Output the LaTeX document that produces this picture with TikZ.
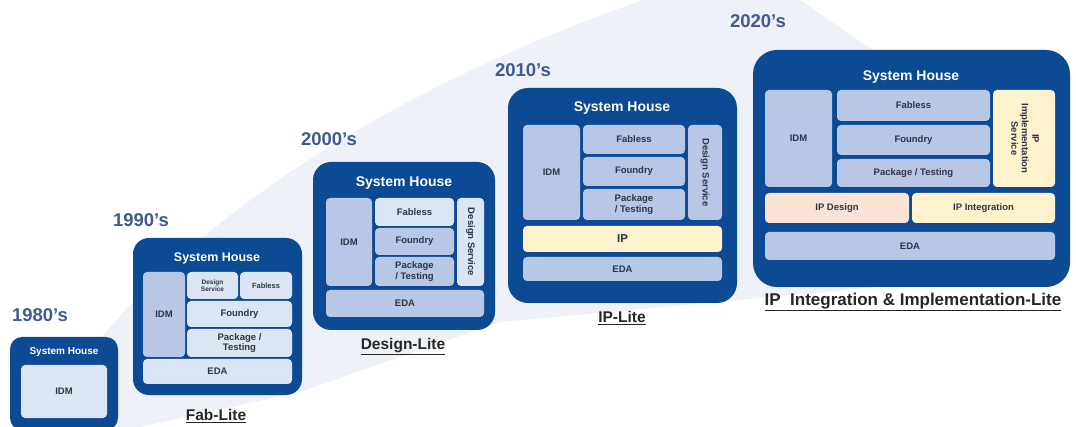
\documentclass[tikz,border=0pt]{standalone}
\usepackage{fontspec}
\setmainfont{Liberation Sans}
\definecolor{housenavy}{HTML}{0C4A93}
\definecolor{cellmid}{HTML}{B7C7E5}
\definecolor{celllight}{HTML}{DCE5F3}
\definecolor{cellyellow}{HTML}{FFF2CC}
\definecolor{cellpeach}{HTML}{FBE4D6}
\definecolor{celltext}{HTML}{2E3546}
\definecolor{eranavy}{HTML}{3E5C90}
\definecolor{bandgray}{HTML}{EEF1F7}
% one box from its corners: name, x1, y1, x2, y2, options, text
\newcommand{\blockcell}[7]{%
  \node[cellbox,#6,minimum width={(#4-#2)*1pt},minimum height={(#5-#3)*1pt}]
    (#1) at ({(#2+#4)/2},{(#3+#5)/2}) {#7};}
\begin{document}
\begin{tikzpicture}[x=1pt,y=-1pt,
    cellbox/.style={rounded corners=4pt,inner sep=0pt,align=center,text=celltext,
      font=\bfseries\fontsize{9.5}{10.5}\selectfont},
    housebox/.style={fill=housenavy,rounded corners=#1},
    housetitle/.style={text=white,font=\bfseries\fontsize{#1}{#1}\selectfont},
    eralabel/.style={text=eranavy,font=\bfseries\fontsize{18.5}{20}\selectfont},
    modellabel/.style={text=black!85,font=\bfseries\fontsize{#1}{#1}\selectfont}]
  \useasboundingbox (0,0) rectangle (1076,427);
  % background swoosh
  \fill[bandgray] (45,427) .. controls (100,300) and (300,120) .. (643,0)
    -- (800,0) -- (880,55) -- (900,285) -- (740,300)
    -- (500,322) -- (300,392) -- (140,427) -- cycle;

  % 1980's
  \node[eralabel] (era80) at (40,315) {1980's};
  \blockcell{house80}{10}{337}{118}{430}{housebox=12pt}{}
  \node[housetitle=10] (title80) at (64,352) {System House};
  \blockcell{idm80}{21}{365}{107}{418}{fill=celllight}{IDM}

  % 1990's
  \node[eralabel] (era90) at (141,220) {1990's};
  \blockcell{house90}{133}{238}{302}{395}{housebox=16pt}{}
  \node[housetitle=12.5] (title90) at (217,258) {System House};
  \blockcell{idm90}{143}{272}{185}{357}{fill=cellmid}{IDM}
  \blockcell{design90}{187}{272}{238}{299}{fill=celllight,font=\bfseries\fontsize{6.5}{7.5}\selectfont}{Design\\Service}
  \blockcell{fabless90}{240}{272}{292}{299}{fill=celllight,font=\bfseries\fontsize{7.5}{8.5}\selectfont}{Fabless}
  \blockcell{foundry90}{187}{301}{292}{327}{fill=celllight}{Foundry}
  \blockcell{package90}{187}{329}{292}{357}{fill=celllight}{Package /\\Testing}
  \blockcell{eda90}{143}{359}{292}{384}{fill=celllight}{EDA}
  \node[modellabel=15.5] (model90) at (216,416) {\underline{Fab-Lite}};

  % 2000's
  \node[eralabel] (era00) at (329,139) {2000's};
  \blockcell{house00}{313}{162}{495}{330}{housebox=18pt}{}
  \node[housetitle=14] (title00) at (404,183) {System House};
  \blockcell{idm00}{326}{198}{372}{286}{fill=cellmid}{IDM}
  \blockcell{fabless00}{375}{198}{454}{226}{fill=celllight}{Fabless}
  \blockcell{foundry00}{375}{228}{454}{255}{fill=cellmid}{Foundry}
  \blockcell{package00}{375}{257}{454}{286}{fill=cellmid}{Package\\/ Testing}
  \blockcell{design00}{457}{198}{484}{286}{fill=celllight}{\rotatebox{-90}{Design Service}}
  \blockcell{eda00}{326}{290}{484}{317}{fill=cellmid}{EDA}
  \node[modellabel=15.5] (model00) at (403,347) {\underline{Design-Lite}};

  % 2010's
  \node[eralabel] (era10) at (523,70) {2010's};
  \blockcell{house10}{508}{88}{737}{303}{housebox=20pt}{}
  \node[housetitle=14] (title10) at (622,108) {System House};
  \blockcell{idm10}{523}{125}{580}{220}{fill=cellmid}{IDM}
  \blockcell{fabless10}{583}{125}{685}{154}{fill=cellmid}{Fabless}
  \blockcell{foundry10}{583}{157}{685}{186}{fill=cellmid}{Foundry}
  \blockcell{package10}{583}{189}{685}{220}{fill=cellmid}{Package\\/ Testing}
  \blockcell{design10}{688}{125}{722}{220}{fill=cellmid}{\rotatebox{-90}{Design Service}}
  \blockcell{ip10}{523}{226}{722}{252}{fill=cellyellow,font=\bfseries\fontsize{11.5}{12}\selectfont}{IP}
  \blockcell{eda10}{523}{257}{722}{281}{fill=cellmid}{EDA}
  \node[modellabel=15.5] (model10) at (622,318) {\underline{IP-Lite}};

  % 2020's
  \node[eralabel] (era20) at (758,21) {2020's};
  \blockcell{house20}{753}{50}{1070}{287}{housebox=24pt}{}
  \node[housetitle=14] (title20) at (911,77) {System House};
  \blockcell{idm20}{765}{90}{832}{187}{fill=cellmid}{IDM}
  \blockcell{fabless20}{837}{90}{990}{121}{fill=cellmid}{Fabless}
  \blockcell{foundry20}{837}{125}{990}{155}{fill=cellmid}{Foundry}
  \blockcell{package20}{837}{159}{990}{187}{fill=cellmid}{Package / Testing}
  \blockcell{implement20}{993}{90}{1055}{187}{fill=cellyellow}{\rotatebox{-90}{\begin{tabular}{@{}c@{}}IP\\Implementation\\Service\end{tabular}}}
  \blockcell{ipdesign20}{765}{193}{909}{223}{fill=cellpeach}{IP Design}
  \blockcell{ipinteg20}{912}{193}{1055}{223}{fill=cellyellow}{IP Integration}
  \blockcell{eda20}{765}{232}{1055}{260}{fill=cellmid}{EDA}
  \node[modellabel=17] (model20) at (913,302) {\underline{IP\ \ Integration \& Implementation-Lite}};
\end{tikzpicture}
\end{document}
